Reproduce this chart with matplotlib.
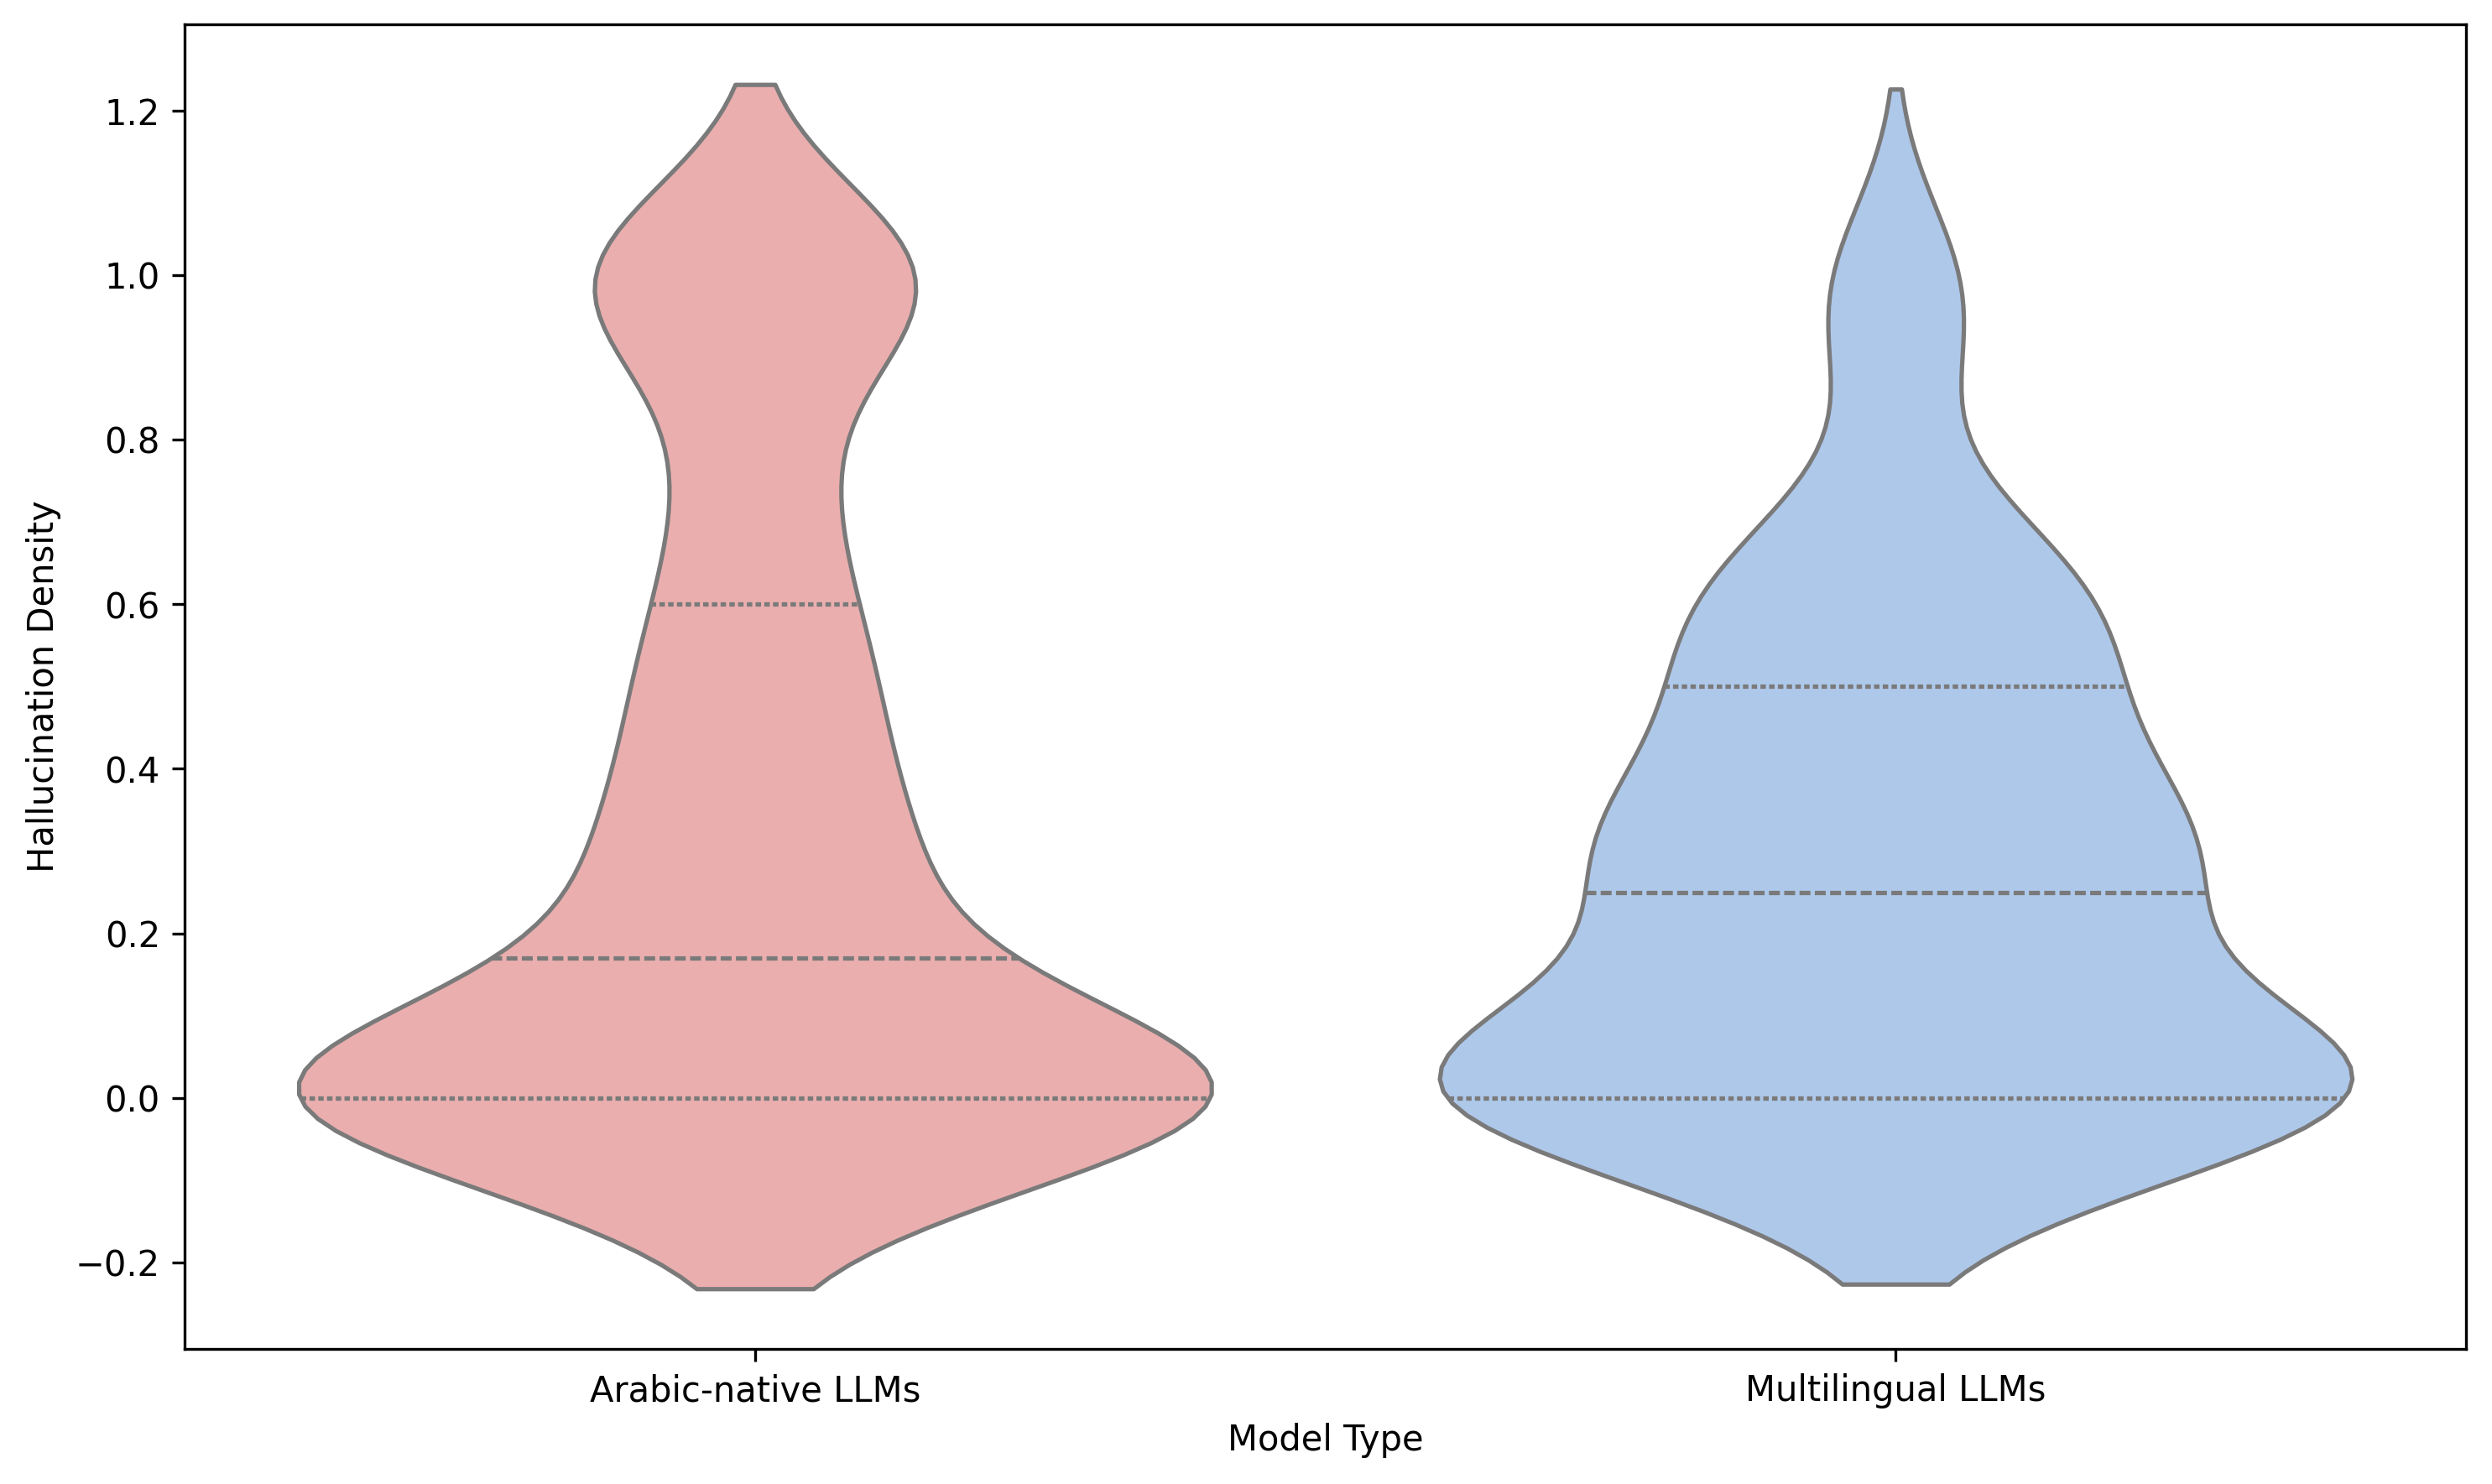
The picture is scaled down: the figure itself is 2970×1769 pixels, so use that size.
import numpy as np
import pandas as pd
import matplotlib
matplotlib.use("Agg")
import matplotlib.pyplot as plt
import seaborn as sns

# Observed hallucination-density values and how often each occurs
categories = ["Arabic-native LLMs", "Multilingual LLMs"]

arabic_values = [0.0, 0.1, 0.15, 0.17, 0.2, 0.25, 0.3, 0.35, 0.4, 0.45, 0.5, 0.55,
                 0.6, 0.65, 0.7, 0.75, 0.8, 0.85, 0.9, 0.95, 1.0]
arabic_counts = [95, 2, 2, 2, 6, 10, 8, 4, 4, 5, 6, 5, 4, 2, 3, 4, 3, 1, 1, 1, 32]

multi_values = [0.0, 0.05, 0.1, 0.15, 0.2, 0.25, 0.3, 0.35, 0.4, 0.45, 0.5,
                0.55, 0.6, 0.65, 0.7, 0.9, 0.95, 1.0]
multi_counts = [22, 2, 1, 1, 3, 3, 6, 3, 2, 1, 3, 2, 3, 3, 1, 1, 1, 2]

palette = ["#EAAEAE", "#AEC8EA"]

# Build long-form table
arabic = np.repeat(arabic_values, arabic_counts)
multi = np.repeat(multi_values, multi_counts)
df = pd.DataFrame({
    "Model Type": [categories[0]] * len(arabic) + [categories[1]] * len(multi),
    "Hallucination Density": np.concatenate([arabic, multi]),
})

fig, ax = plt.subplots(figsize=(9.9, 5.897), dpi=300)
sns.violinplot(data=df, x="Model Type", y="Hallucination Density", hue="Model Type",
               order=categories, palette=palette, saturation=1, inner="quart",
               density_norm="width", bw_adjust=0.88, legend=False, ax=ax)

ax.set_xlabel("Model Type")
ax.set_ylabel("Hallucination Density")

fig.subplots_adjust(left=0.0741, right=0.9896, top=0.9836, bottom=0.091)
plt.savefig("out.png", dpi=300)
